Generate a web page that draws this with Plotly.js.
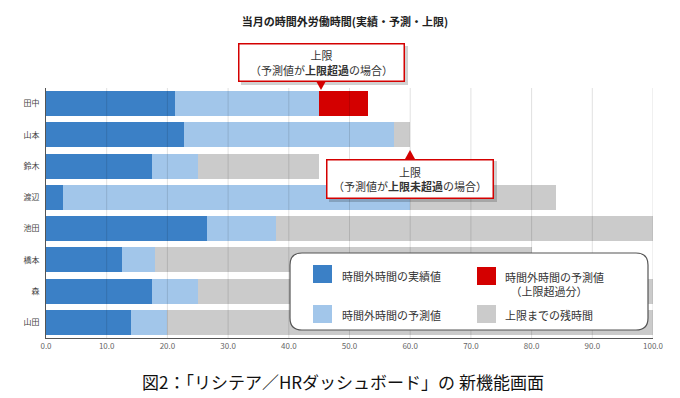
<!DOCTYPE html>
<html><head><meta charset="utf-8">
<script src="https://cdn.plot.ly/plotly-3.0.1.min.js"></script>
<style>html,body{margin:0;padding:0;background:#fff;}#chart{width:680px;height:398px;}</style>
</head><body><div id="chart"></div>
<script>
const names = ["田中","山本","鈴木","渡辺","池田","橋本","森","山田"];
const actual =      [21.2, 22.7, 17.5,  2.8, 26.6, 12.6, 17.5, 14.0];
const forecastAdd = [23.8, 34.6,  7.5, 57.2, 11.3,  5.4,  7.5,  6.0];
const overLimit =   [ 8.0,  0,    0,    0,    0,    0,    0,    0  ];
const remaining =   [ 0,    2.7, 20.0, 24.0, 62.1, 62.0, 75.0, 80.0];
const xTicks = [0,10,20,30,40,50,60,70,80,90,100];
const seriesNames = ["時間外時間の実績値","時間外時間の予測値","時間外時間の予測値<br>(上限超過分)","上限までの残時間"];
const colors = ["#3b80c6","#a2c6ea","#d40000","#cbcbcb"];

const L=46, R=653, T=88, B=338;
const px = x => (x-L)/(R-L);
const py = y => (B-y)/(B-T);
const font = "'Noto Sans CJK JP', 'Noto Sans', sans-serif";

const vals = [actual, forecastAdd, overLimit, remaining];
const traces = vals.map((v,i)=>({
  type:'bar', orientation:'h', y:names, x:v, name:seriesNames[i],
  marker:{color:colors[i], line:{width:0}}, hoverinfo:'skip'
}));

const shapes = [];
xTicks.slice(1).forEach(t=>{
  shapes.push({type:'line', xref:'x', yref:'paper', x0:t, x1:t, y0:0, y1:1,
    line:{color:'rgba(0,0,0,0.12)', width:1}, layer:'above'});
});
// callout shadows
shapes.push({type:'rect', xref:'paper', yref:'paper', layer:'above',
  x0:px(241), x1:px(408), y0:py(85), y1:py(46), fillcolor:'rgba(0,0,0,0.18)', line:{width:0}});
shapes.push({type:'rect', xref:'paper', yref:'paper', layer:'above',
  x0:px(329), x1:px(497), y0:py(202), y1:py(161), fillcolor:'rgba(0,0,0,0.18)', line:{width:0}});
// callout pointers
shapes.push({type:'path', xref:'paper', yref:'paper', layer:'above',
  path:`M ${px(316)} ${py(81)} L ${px(326)} ${py(81)} L ${px(321)} ${py(90)} Z`,
  fillcolor:'#d40000', line:{width:0}});
shapes.push({type:'path', xref:'paper', yref:'paper', layer:'above',
  path:`M ${px(405)} ${py(159)} L ${px(415)} ${py(159)} L ${px(410)} ${py(150)} Z`,
  fillcolor:'#d40000', line:{width:0}});
// legend box (rounded)
const lx0=px(290), lx1=px(648), ly0=py(330), ly1=py(253);
const rx=12/(R-L), ry=12/(B-T);
shapes.push({type:'path', xref:'paper', yref:'paper', layer:'above',
  path:`M ${lx0+rx} ${ly1} L ${lx1-rx} ${ly1} Q ${lx1} ${ly1} ${lx1} ${ly1-ry} L ${lx1} ${ly0+ry} Q ${lx1} ${ly0} ${lx1-rx} ${ly0} L ${lx0+rx} ${ly0} Q ${lx0} ${ly0} ${lx0} ${ly0+ry} L ${lx0} ${ly1-ry} Q ${lx0} ${ly1} ${lx0+rx} ${ly1} Z`,
  fillcolor:'#ffffff', line:{color:'#555', width:1.2}});
const legPos = [[313,265],[313,305],[477,267],[477,305]];
legPos.forEach((p,i)=>{
  shapes.push({type:'rect', xref:'paper', yref:'paper', layer:'above',
    x0:px(p[0]), x1:px(p[0]+19), y0:py(p[1]+18), y1:py(p[1]),
    fillcolor:colors[i], line:{width:0}});
});

const lf = {family:font, size:11, color:'#333'};
const annotations = [
  {xref:'paper', yref:'paper', x:px(321), y:py(62.5), yanchor:'middle', text:'上限<br>（予測値が<b>上限超過</b>の場合）',
   showarrow:false, width:162, height:34, bgcolor:'#fff', bordercolor:'#d40000', borderwidth:1.5,
   font:{family:font, size:11, color:'#333'}, align:'center'},
  {xref:'paper', yref:'paper', x:px(410), y:py(178.5), yanchor:'middle', text:'上限<br>（予測値が<b>上限未超過</b>の場合）',
   showarrow:false, width:163, height:35, bgcolor:'#fff', bordercolor:'#d40000', borderwidth:1.5,
   font:{family:font, size:11, color:'#333'}, align:'center'},
  {xref:'paper', yref:'paper', x:px(340), y:py(276), xanchor:'left', yanchor:'middle', text:seriesNames[0], showarrow:false, font:lf},
  {xref:'paper', yref:'paper', x:px(340), y:py(315), xanchor:'left', yanchor:'middle', text:seriesNames[1], showarrow:false, font:lf},
  {xref:'paper', yref:'paper', x:px(503), y:py(283.5), xanchor:'left', yanchor:'middle', text:'時間外時間の予測値<br>　（上限超過分）', showarrow:false,
   align:'left', font:lf},
  {xref:'paper', yref:'paper', x:px(503), y:py(315), xanchor:'left', yanchor:'middle', text:seriesNames[3], showarrow:false, font:lf},
  {xref:'paper', yref:'paper', x:px(343), y:py(381), yanchor:'middle', text:'図2：「リシテア／HRダッシュボード」の 新機能画面', showarrow:false,
   font:{family:font, size:17, color:'#111'}}
];

const layout = {
  width:680, height:398, margin:{l:L, r:680-R, t:T, b:398-B},
  paper_bgcolor:'#fff', plot_bgcolor:'#fff',
  barmode:'stack', bargap:0.2, showlegend:false,
  title:{text:'<b>当月の時間外労働時間(実績・予測・上限)</b>', x:345/680, xanchor:'center', y:1-22/398, yanchor:'middle',
    font:{family:font, size:11, color:'#222'}},
  xaxis:{range:[0,100], tickvals:xTicks, tickformat:'.1f', showgrid:false, zeroline:false,
    showline:true, linecolor:'#555', linewidth:1, ticks:'', tickfont:{family:font, size:8, color:'#666'}},
  yaxis:{type:'category', categoryarray:names, categoryorder:'array', autorange:'reversed',
    showgrid:false, showline:true, linecolor:'#555', linewidth:1, ticks:'', ticklabelstandoff:4,
    tickfont:{family:font, size:8, color:'#444'}},
  shapes, annotations
};
Plotly.newPlot('chart', traces, layout, {displayModeBar:false, staticPlot:true});
</script></body></html>
